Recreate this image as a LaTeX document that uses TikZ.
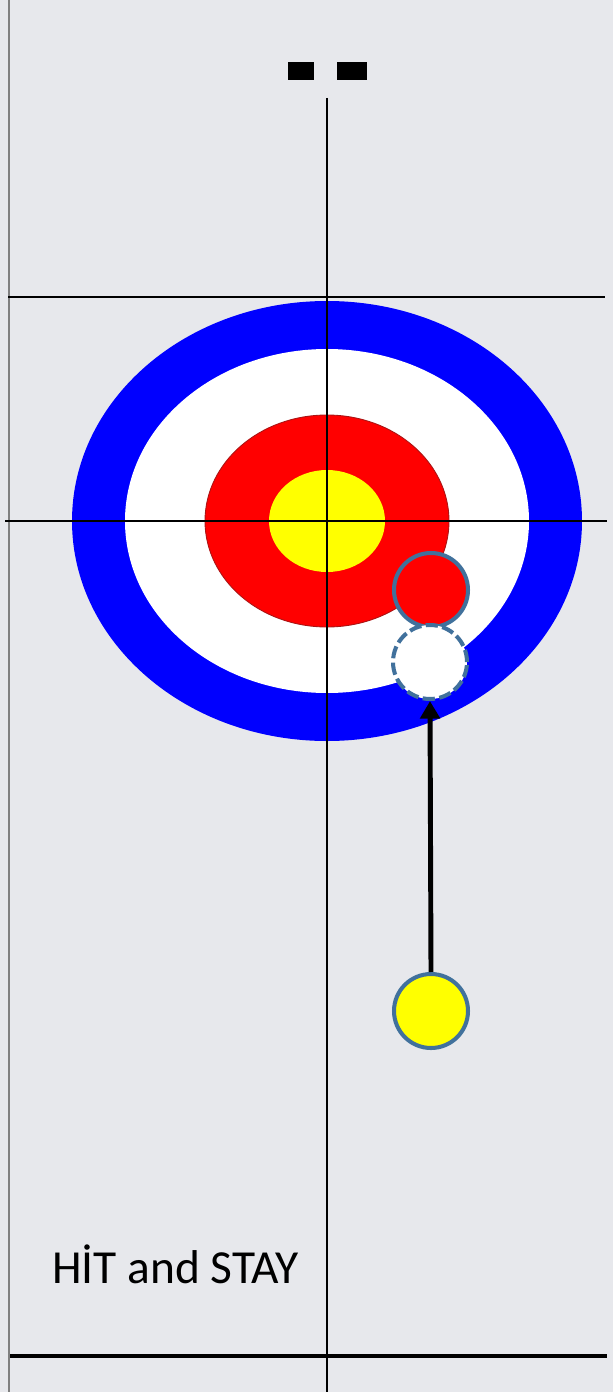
\documentclass[tikz,border=0pt]{standalone}
\usepackage{fontspec}
\setmainfont{Carlito}
\definecolor{icegray}{RGB}{231,232,236}
\definecolor{houseblue}{RGB}{0,0,255}
\definecolor{housered}{RGB}{255,0,0}
\definecolor{houseyellow}{RGB}{255,255,0}
\definecolor{rimred}{RGB}{170,20,20}
\definecolor{stoneedge}{RGB}{65,113,156}
\usetikzlibrary{arrows.meta,positioning,shapes.geometric}

\begin{document}
\begin{tikzpicture}[x=0.02cm, y=-0.02cm,
    stone/.style={circle, minimum size=1.48cm, inner sep=0pt, draw=stoneedge, line width=2.3pt},
    ghost/.style={stone, fill=white, dashed, dash pattern=on 7pt off 2.5pt},
    sheetline/.style={black, line width=1.6pt},
    shot/.style={-{Triangle[width=11pt,length=10pt]}, line width=2.8pt, black}
  ]
    \useasboundingbox (0,0) rectangle (613,1392);

    % Ice sheet
    \fill[icegray] (0,0) rectangle (613,1392);
    \draw[gray, line width=0.8pt] (9,0) -- (9,1392);

    % House rings
    \fill[houseblue]   (327,521) ellipse [x radius=255, y radius=220];
    \fill[white]       (327,521) ellipse [x radius=202, y radius=172];
    \fill[housered]    (327,521) ellipse [x radius=122, y radius=106];
    \draw[rimred, line width=0.5pt] (327,521) ellipse [x radius=122, y radius=106];
    \fill[houseyellow] (327,521) ellipse [x radius=58, y radius=51];

    % Sheet lines
    \draw[sheetline] (8,297) -- (605,297);
    \draw[sheetline] (5,521) -- (607,521);
    \draw[sheetline, line width=2.6pt] (10,1356) -- (607,1356);
    \draw[sheetline] (327,98) -- (327,1392);

    % Hacks
    \fill[black] (288,62) rectangle (314,80);
    \fill[black] (337,62) rectangle (367,80);

    % Stones
    \node[stone, fill=housered]    (hit)   at (431,590)  {};
    \node[ghost]                   (stay)  at (430,662)  {};
    \node[stone, fill=houseyellow] (throw) at (431,1011) {};

    % Shot path
    \draw[shot] (throw.north) -- (stay.south);

    % Caption
    \node[anchor=base west, inner sep=0pt, font=\fontsize{27}{32}\selectfont] (title) at (52,1283) {HİT and STAY};
  \end{tikzpicture}
\end{document}
